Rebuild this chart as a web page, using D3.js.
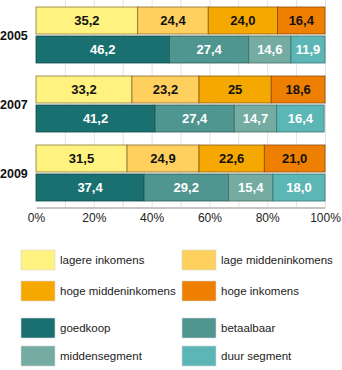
<!DOCTYPE html>
<html>
<head>
<meta charset="utf-8">
<script src="https://cdn.jsdelivr.net/npm/d3@7"></script>
<style>
  html, body { margin: 0; padding: 0; background: #fff; }
  svg { display: block; }
  text { font-family: "Liberation Sans", Arial, sans-serif; }
</style>
</head>
<body>
<svg id="chart" width="342" height="370"></svg>
<script>
// Share (%) per year: income groups of households, and price segments of dwellings
const years = ["2005", "2007", "2009"];
const incomeKeys = ["lagere inkomens", "lage middeninkomens", "hoge middeninkomens", "hoge inkomens"];
const incomeValues = [
  [35.2, 24.4, 24.0, 16.4],
  [33.2, 23.2, 25.0, 18.6],
  [31.5, 24.9, 22.6, 21.0]
];
const incomeLabels = [
  ["35,2", "24,4", "24,0", "16,4"],
  ["33,2", "23,2", "25", "18,6"],
  ["31,5", "24,9", "22,6", "21,0"]
];
const segmentKeys = ["goedkoop", "betaalbaar", "middensegment", "duur segment"];
const segmentValues = [
  [46.2, 27.4, 14.6, 11.9],
  [41.2, 27.4, 14.7, 16.4],
  [37.4, 29.2, 15.4, 18.0]
];
const segmentLabels = [
  ["46,2", "27,4", "14,6", "11,9"],
  ["41,2", "27,4", "14,7", "16,4"],
  ["37,4", "29,2", "15,4", "18,0"]
];
const tickValues = [0, 20, 40, 60, 80, 100];

const incomeColors = ["#fff27f", "#ffd05e", "#f5a800", "#ee7f00"];
const incomeStroke = ["#8a7a3a", "#8a6a30", "#8a5a10", "#8a4a10"];
const segmentColors = ["#1a7070", "#4f9590", "#74aca1", "#5db6b6"];
const segmentStroke = ["#134848", "#2d5c58", "#466c64", "#3a7474"];

const svg = d3.select("#chart");
const x = d3.scaleLinear().domain([0, 100]).range([36, 325]);
const yGroup = d3.scaleBand().domain(years).range([7, 214]).paddingInner(0).paddingOuter(0);
const barH = 27, barGap = 2;

// vertical grid every 10%
svg.append("g").selectAll("line")
  .data(d3.range(10, 101, 10))
  .join("line")
  .attr("x1", d => x(d) + 0.5).attr("x2", d => x(d) + 0.5)
  .attr("y1", 0).attr("y2", 207)
  .attr("stroke", "#e3e3e3").attr("stroke-width", 1);

function drawStack(values, labels, colors, strokes, yOffset, textColor) {
  values.forEach((row, i) => {
    const y0 = yGroup(years[i]) + yOffset;
    let acc = 0;
    const segs = row.map((v, j) => {
      const s = { start: acc, end: Math.min(acc + v, 100), label: labels[i][j], j };
      acc += v;
      return s;
    });
    const g = svg.append("g");
    g.selectAll("rect").data(segs).join("rect")
      .attr("x", d => x(d.start))
      .attr("y", y0)
      .attr("width", d => x(d.end) - x(d.start))
      .attr("height", barH)
      .attr("fill", d => colors[d.j])
      .attr("stroke", d => strokes[d.j])
      .attr("stroke-width", 0.8);
    g.selectAll("text").data(segs).join("text")
      .attr("x", d => (x(d.start) + x(d.end)) / 2)
      .attr("y", y0 + barH / 2 + 4.5)
      .attr("text-anchor", "middle")
      .attr("font-size", 13)
      .attr("font-weight", "bold")
      .attr("fill", textColor)
      .text(d => d.label);
  });
}

drawStack(incomeValues, incomeLabels, incomeColors, incomeStroke, 0, "#111");
drawStack(segmentValues, segmentLabels, segmentColors, segmentStroke, barH + barGap, "#fff");

// year labels
svg.append("g").selectAll("text").data(years).join("text")
  .attr("x", 0)
  .attr("y", d => yGroup(d) + barH + barGap / 2 + 4.5)
  .attr("font-size", 12.5)
  .attr("font-weight", "bold")
  .attr("fill", "#111")
  .text(d => d);

// bottom axis
const axis = svg.append("g").attr("transform", "translate(0,207.5)")
  .call(d3.axisBottom(x).tickValues(tickValues).tickSize(0).tickFormat(d => d + "%"));
axis.select(".domain").attr("stroke", "#8a8a8a");
axis.selectAll("text")
  .attr("dy", 0).attr("y", 14)
  .attr("font-size", 12)
  .attr("fill", "#222")
  .style("font-family", "'Liberation Sans', Arial, sans-serif");

// legend
const legendItems = [
  { key: incomeKeys[0], color: incomeColors[0], col: 0, y: 250 },
  { key: incomeKeys[1], color: incomeColors[1], col: 1, y: 250 },
  { key: incomeKeys[2], color: incomeColors[2], col: 0, y: 281 },
  { key: incomeKeys[3], color: incomeColors[3], col: 1, y: 281 },
  { key: segmentKeys[0], color: segmentColors[0], col: 0, y: 318 },
  { key: segmentKeys[1], color: segmentColors[1], col: 1, y: 318 },
  { key: segmentKeys[2], color: segmentColors[2], col: 0, y: 346 },
  { key: segmentKeys[3], color: segmentColors[3], col: 1, y: 346 }
];
const colX = [21, 182];
const lg = svg.append("g").selectAll("g").data(legendItems).join("g")
  .attr("transform", d => `translate(${colX[d.col]},${d.y})`);
lg.append("rect")
  .attr("width", 34).attr("height", 20)
  .attr("fill", d => d.color)
  .attr("stroke", "#d8d8d8").attr("stroke-width", 0.6);
lg.append("text")
  .attr("x", 39).attr("y", 14)
  .attr("font-size", 11.5)
  .attr("fill", "#222")
  .text(d => d.key);
</script>
</body>
</html>
